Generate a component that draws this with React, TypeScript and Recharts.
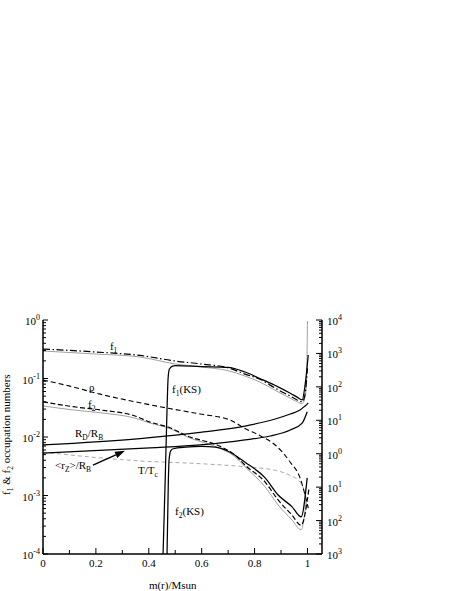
import React from 'react';
import { LineChart, Line, XAxis, YAxis, ReferenceDot, ReferenceLine } from 'recharts';

const FONT = "'Liberation Serif', 'DejaVu Serif', 'Times New Roman', serif";

// ---------- axis ticks ----------
const xTicks = [0, 0.1, 0.2, 0.3, 0.4, 0.5, 0.6, 0.7, 0.8, 0.9, 1.0];
const xMajorTicks = [0, 0.2, 0.4, 0.6, 0.8, 1.0];
const xTickLabels = ['0', '0.2', '0.4', '0.6', '0.8', '1'];

const leftMajorTicks = [1e-4, 1e-3, 1e-2, 1e-1, 1];
const leftExponents = ['-4', '-3', '-2', '-1', '0'];
const rightMajorTicks = [1e-3, 1e-2, 1e-1, 1, 1e1, 1e2, 1e3, 1e4];
const rightExponents = ['3', '2', '1', '0', '1', '2', '3', '4'];
const minorMultipliers = [2, 3, 4, 5, 6, 7, 8, 9];

const withMinors = (majors: number[]) => {
  const out: number[] = [...majors];
  majors.slice(0, -1).forEach((m) => minorMultipliers.forEach((k) => out.push(+(m * k).toPrecision(3))));
  return out;
};
const leftTicks = withMinors(leftMajorTicks);
const rightTicks = withMinors(rightMajorTicks);

// ---------- series: [m(r)/Msun, value on left axis] ----------
const f1Dash = [[0, 0.319], [0.2, 0.284], [0.367, 0.248], [0.5, 0.199], [0.6, 0.177], [0.7, 0.152], [0.764, 0.119], [0.82, 0.097], [0.889, 0.064], [0.935, 0.05], [0.961, 0.043], [0.98, 0.04], [0.991, 0.054], [1.0, 0.15]];
const f1Gray = [[0, 0.295], [0.2, 0.262], [0.367, 0.233], [0.5, 0.177], [0.6, 0.157], [0.7, 0.136], [0.764, 0.11], [0.82, 0.087], [0.889, 0.059], [0.935, 0.046], [0.961, 0.04], [0.98, 0.037], [0.991, 0.048], [0.997, 0.115], [1.0, 0.96]];
const f1KS = [[0.454, 1e-4], [0.462, 0.0018], [0.469, 0.03], [0.473, 0.1], [0.478, 0.145], [0.49, 0.163], [0.5, 0.166], [0.6, 0.16], [0.7, 0.155], [0.764, 0.129], [0.82, 0.1], [0.889, 0.072], [0.935, 0.056], [0.961, 0.048], [0.98, 0.043], [0.991, 0.077], [1.003, 0.252]];
const f2Dash = [[0, 0.04], [0.114, 0.033], [0.216, 0.029], [0.348, 0.0229], [0.405, 0.018], [0.473, 0.0148], [0.556, 0.01], [0.658, 0.0073], [0.726, 0.0049], [0.764, 0.0033], [0.84, 0.0017], [0.889, 0.00084], [0.942, 0.00046], [0.976, 0.00031], [1.006, 0.00134]];
const f2Gray = [[0, 0.034], [0.114, 0.029], [0.216, 0.026], [0.348, 0.021], [0.405, 0.0173], [0.473, 0.0143], [0.556, 0.0096], [0.658, 0.0067], [0.726, 0.0046], [0.764, 0.0031], [0.84, 0.0014], [0.889, 0.00069], [0.942, 0.00038], [0.976, 0.00026], [0.995, 0.00077]];
const f2KS = [[0.469, 1e-4], [0.474, 0.0018], [0.477, 0.0042], [0.483, 0.0058], [0.492, 0.0063], [0.54, 0.0067], [0.6, 0.0069], [0.651, 0.0067], [0.7, 0.0057], [0.764, 0.0037], [0.84, 0.002], [0.889, 0.00102], [0.942, 0.00064], [0.976, 0.00043], [0.999, 0.002]];
const rho = [[0, 0.094], [0.102, 0.074], [0.216, 0.054], [0.348, 0.04], [0.473, 0.031], [0.594, 0.0247], [0.708, 0.0195], [0.764, 0.014], [0.821, 0.0105], [0.878, 0.0073], [0.935, 0.0037], [0.972, 0.002], [0.991, 0.00102], [1.003, 0.00061]];
const rdOverRb = [[0, 0.0073], [0.367, 0.0094], [0.594, 0.012], [0.764, 0.0154], [0.878, 0.0203], [0.935, 0.0247], [0.972, 0.029], [0.991, 0.034], [1.003, 0.038]];
const rzOverRb = [[0, 0.0053], [0.405, 0.0065], [0.594, 0.0073], [0.764, 0.0089], [0.859, 0.0104], [0.935, 0.0132], [0.98, 0.0173], [0.999, 0.027]];
const tOverTc = [[0, 0.0055], [0.216, 0.0044], [0.367, 0.0039], [0.594, 0.0035], [0.764, 0.0031], [0.878, 0.0027], [0.935, 0.0022], [0.972, 0.0017], [0.991, 0.00102], [0.995, 0.00069]];

const toPts = (a: number[][]) => a.map(([x, y]) => ({ x, y }));

// ---------- annotations: [x, y, parts] (parts: [text, isSubscript]) ----------
type Part = [string, boolean];
const annotations: { x: number; y: number; parts: Part[] }[] = [
  { x: 0.253, y: 0.307, parts: [['f', false], ['1', true]] },
  { x: 0.174, y: 0.061, parts: [['ρ', false]] },
  { x: 0.17, y: 0.031, parts: [['f', false], ['2', true]] },
  { x: 0.488, y: 0.056, parts: [['f', false], ['1', true], ['(KS)', false]] },
  { x: 0.121, y: 0.01, parts: [['R', false], ['D', true], ['/R', false], ['B', true]] },
  { x: 0.0454, y: 0.00284, parts: [['<r', false], ['Z', true], ['>/R', false], ['B', true]] },
  { x: 0.359, y: 0.00233, parts: [['T/T', false], ['c', true]] },
  { x: 0.4995, y: 0.000464, parts: [['f', false], ['2', true], ['(KS)', false]] },
];
const arrowFrom = { x: 0.189, y: 0.0033 };
const arrowTo = { x: 0.31, y: 0.0058 };

const renderParts = (parts: Part[], subSize = 7.5, shift = 3) => {
  let lowered = false;
  return parts.map(([t, sub], i) => {
    let dy = 0;
    if (sub && !lowered) { dy = shift; lowered = true; }
    else if (!sub && lowered) { dy = -shift; lowered = false; }
    return (
      <tspan key={i} dy={dy} fontSize={sub ? subSize : undefined}>{t}</tspan>
    );
  });
};

const LeftTick = (props: any) => {
  const { x, y, payload } = props;
  const idx = leftMajorTicks.indexOf(payload.value);
  const major = idx >= 0;
  return (
    <g>
      <line x1={x} x2={x + (major ? 5 : 3)} y1={y} y2={y} stroke="#000" strokeWidth={1} />
      {major && (
        <text x={x - 3} y={y + 5} textAnchor="end" fontSize={11} fontFamily={FONT} fill="#000">
          10<tspan dy={-5} fontSize={8}>{leftExponents[idx]}</tspan>
        </text>
      )}
    </g>
  );
};

const RightTick = (props: any) => {
  const { x, y, payload } = props;
  const idx = rightMajorTicks.indexOf(payload.value);
  const major = idx >= 0;
  return (
    <g>
      <line x1={x} x2={x - (major ? 6 : 3)} y1={y} y2={y} stroke="#000" strokeWidth={1} />
      {major && (
        <text x={x + 5} y={y + 5} textAnchor="start" fontSize={11} fontFamily={FONT} fill="#000">
          10<tspan dy={-5} fontSize={8}>{rightExponents[idx]}</tspan>
        </text>
      )}
    </g>
  );
};

const BottomTick = (props: any) => {
  const { x, y, payload } = props;
  const idx = xMajorTicks.findIndex((v) => Math.abs(v - payload.value) < 1e-9);
  const major = idx >= 0;
  return (
    <g>
      <line x1={x} x2={x} y1={y} y2={y - (major ? 6 : 4)} stroke="#000" strokeWidth={1} />
      {major && (
        <text x={x} y={y + 13} textAnchor="middle" fontSize={11} fontFamily={FONT} fill="#000">
          {xTickLabels[idx]}
        </text>
      )}
    </g>
  );
};

const XTitle = (props: any) => {
  const vb = props.viewBox || { x: 43, y: 554, width: 279, height: 37 };
  return (
    <text x={vb.x + vb.width * 0.465} y={vb.y + 35} textAnchor="middle" fontSize={11} fontFamily={FONT} fill="#000">
      m(r)/Msun
    </text>
  );
};

const yTitleParts: Part[] = [['f', false], ['1', true], [' & f', false], ['2', true], [' occupation numbers', false]];
const YTitle = (props: any) => {
  const vb = props.viewBox || { x: 0, y: 320, width: 43, height: 234 };
  const cx = vb.x + 10;
  const cy = vb.y + vb.height * 0.49;
  return (
    <text x={cx} y={cy} dy={4} textAnchor="middle" fontSize={11} fontFamily={FONT} fill="#000" transform={`rotate(-90, ${cx}, ${cy})`}>
      {renderParts(yTitleParts)}
    </text>
  );
};

const ArrowShape = (props: any) => {
  const { x1, y1, x2, y2 } = props;
  const ang = Math.atan2(y2 - y1, x2 - x1);
  const len = 10;
  const hw = 3.5;
  const bx = x2 - len * Math.cos(ang);
  const by = y2 - len * Math.sin(ang);
  const px = -Math.sin(ang) * hw;
  const py = Math.cos(ang) * hw;
  return (
    <g>
      <line x1={x1} y1={y1} x2={bx} y2={by} stroke="#000" strokeWidth={1.4} />
      <polygon points={`${x2},${y2} ${bx + px},${by + py} ${bx - px},${by - py}`} fill="#000" />
    </g>
  );
};

const seriesDefs = [
  { key: 'f1Gray', data: f1Gray, stroke: '#a0a0a0', width: 1, dash: undefined },
  { key: 'f2Gray', data: f2Gray, stroke: '#a0a0a0', width: 1, dash: undefined },
  { key: 'tOverTc', data: tOverTc, stroke: '#a8a8a8', width: 1, dash: '4 3' },
  { key: 'rho', data: rho, stroke: '#000', width: 1.1, dash: '5 3' },
  { key: 'f1Dash', data: f1Dash, stroke: '#000', width: 1.2, dash: '7 2.5 1.5 2.5' },
  { key: 'f2Dash', data: f2Dash, stroke: '#000', width: 1.2, dash: '5 2.5' },
  { key: 'rdOverRb', data: rdOverRb, stroke: '#000', width: 1.25, dash: undefined },
  { key: 'rzOverRb', data: rzOverRb, stroke: '#000', width: 1.25, dash: undefined },
  { key: 'f1KS', data: f1KS, stroke: '#000', width: 1.25, dash: undefined },
  { key: 'f2KS', data: f2KS, stroke: '#000', width: 1.25, dash: undefined },
];

export default function App() {
  return (
    <div style={{ position: 'absolute', left: 0, top: 0, background: '#fff' }}>
      <LineChart width={457} height={591} margin={{ top: 320, right: 0, bottom: 0, left: 0 }}>
        <XAxis
          xAxisId="b"
          type="number"
          dataKey="x"
          domain={[0, 1.055]}
          allowDataOverflow
          ticks={xTicks}
          interval={0}
          tick={<BottomTick />}
          tickLine={false}
          tickSize={0}
          tickMargin={0}
          height={37}
          axisLine={{ stroke: '#000', strokeWidth: 1.5 }}
          label={(p: any) => <XTitle {...p} />}
        />
        <XAxis
          xAxisId="t"
          orientation="top"
          type="number"
          dataKey="x"
          domain={[0, 1.055]}
          allowDataOverflow
          tick={false}
          tickLine={false}
          height={0}
          axisLine={{ stroke: '#000', strokeWidth: 1.5 }}
        />
        <YAxis
          yAxisId="l"
          type="number"
          scale="log"
          domain={[1e-4, 1]}
          allowDataOverflow
          ticks={leftTicks}
          interval={0}
          tick={<LeftTick />}
          tickLine={false}
          tickSize={0}
          tickMargin={0}
          width={43}
          axisLine={{ stroke: '#000', strokeWidth: 1.5 }}
          label={(p: any) => <YTitle {...p} />}
        />
        <YAxis
          yAxisId="r"
          orientation="right"
          type="number"
          scale="log"
          domain={[1e-3, 1e4]}
          allowDataOverflow
          ticks={rightTicks}
          interval={0}
          tick={<RightTick />}
          tickLine={false}
          tickSize={0}
          tickMargin={0}
          width={135}
          axisLine={{ stroke: '#000', strokeWidth: 1.5 }}
        />
        {seriesDefs.map((s) => (
          <Line
            key={s.key}
            xAxisId="b"
            yAxisId="l"
            data={toPts(s.data)}
            dataKey="y"
            type="monotone"
            stroke={s.stroke}
            strokeWidth={s.width}
            strokeDasharray={s.dash}
            dot={false}
            activeDot={false}
            isAnimationActive={false}
          />
        ))}
        {annotations.map((a, i) => (
          <ReferenceDot
            key={i}
            xAxisId="b"
            yAxisId="l"
            x={a.x}
            y={a.y}
            r={0}
            ifOverflow="visible"
            shape={(p: any) => (
              <text x={p.cx} y={p.cy} fontSize={11} fontFamily={FONT} fill="#000">
                {renderParts(a.parts)}
              </text>
            )}
          />
        ))}
        <ReferenceLine
          xAxisId="b"
          yAxisId="l"
          segment={[arrowFrom, arrowTo]}
          ifOverflow="visible"
          shape={(p: any) => <ArrowShape {...p} />}
        />
      </LineChart>
    </div>
  );
}
